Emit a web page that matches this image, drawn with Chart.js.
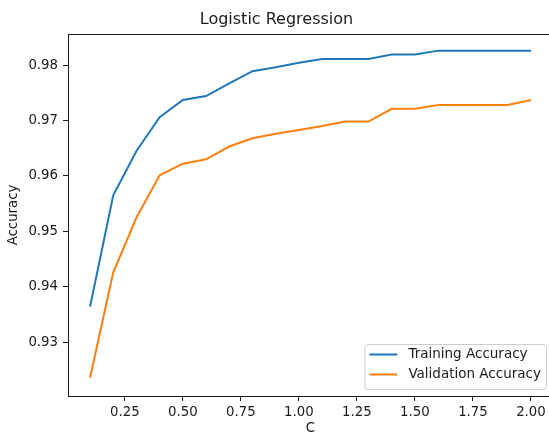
<!DOCTYPE html>
<html>
<head>
<meta charset="utf-8">
<title>Logistic Regression</title>
<script src="https://cdn.jsdelivr.net/npm/chart.js@4.4.1/dist/chart.umd.min.js"></script>
<style>
    html, body { margin: 0; padding: 0; background: white; overflow: hidden; }
    #wrap { position: absolute; left: 0; top: 0; width: 553px; height: 437px; }
</style>
</head>
<body>
<div id="wrap"><canvas id="chart"></canvas></div>
<script>
const cValues = [0.1, 0.2, 0.3, 0.4, 0.5, 0.6, 0.7, 0.8, 0.9, 1.0,
                 1.1, 1.2, 1.3, 1.4, 1.5, 1.6, 1.7, 1.8, 1.9, 2.0];
const trainAcc = [0.9364, 0.9565, 0.9645, 0.9706, 0.9737, 0.9744, 0.9767, 0.9789, 0.9796, 0.9804,
                  0.9811, 0.9811, 0.9811, 0.9819, 0.9819, 0.9826, 0.9826, 0.9826, 0.9826, 0.9826];
const valAcc = [0.9236, 0.9426, 0.9525, 0.9601, 0.9622, 0.9630, 0.9653, 0.9668, 0.9676, 0.9683,
                0.9690, 0.9698, 0.9698, 0.9721, 0.9721, 0.9728, 0.9728, 0.9728, 0.9728, 0.9737];
const xTicks = [0.25, 0.5, 0.75, 1.0, 1.25, 1.5, 1.75, 2.0];
const yTicks = [0.93, 0.94, 0.95, 0.96, 0.97, 0.98];

const ink = '#1a1a1a';
const font = 'DejaVu Sans';

Chart.defaults.font.family = font;
Chart.defaults.color = ink;

// full box round the plot, like matplotlib spines
const framePlugin = {
    id: 'frame',
    afterDraw(chart) {
        const { ctx, chartArea: a } = chart;
        ctx.save();
        ctx.strokeStyle = ink;
        ctx.lineWidth = 1;
        ctx.strokeRect(a.left + 0.5, a.top + 0.5, a.right - a.left, a.bottom - a.top);
        ctx.restore();
    }
};

// legend drawn inside the plot, lower right
const boxLegend = {
    id: 'boxLegend',
    afterDatasetsDraw(chart) {
        const { ctx, chartArea: a } = chart;
        const sets = chart.data.datasets;
        ctx.save();
        ctx.font = `13.5px ${font}`;
        const textW = Math.max(...sets.map(d => ctx.measureText(d.label).width));
        const pad = 5, handle = 28, gap = 11, row = 20;
        const w = pad + handle + gap + textW + pad;
        const h = 45;
        const x = a.right - 7 - w;
        const y = a.bottom - 7 - h;

        ctx.fillStyle = 'rgba(255,255,255,0.8)';
        ctx.strokeStyle = '#cccccc';
        ctx.lineWidth = 1;
        ctx.beginPath();
        ctx.roundRect(x + 0.5, y + 0.5, w, h, 3);
        ctx.fill();
        ctx.stroke();

        sets.forEach((d, i) => {
            const cy = y + 10.5 + i * row;
            ctx.strokeStyle = d.borderColor;
            ctx.lineWidth = 2;
            ctx.beginPath();
            ctx.moveTo(x + pad, cy);
            ctx.lineTo(x + pad + handle, cy);
            ctx.stroke();
            ctx.fillStyle = ink;
            ctx.textBaseline = 'middle';
            ctx.fillText(d.label, x + pad + handle + gap, cy);
        });
        ctx.restore();
    }
};

function axis(min, max, ticks, label, titlePad) {
    return {
        type: 'linear',
        min: min,
        max: max,
        afterBuildTicks: s => { s.ticks = ticks.map(v => ({ value: v })); },
        ticks: {
            autoSkip: false,
            maxRotation: 0,
            padding: 4,
            font: { size: 13.3 },
            color: ink,
            callback: v => v.toFixed(2)
        },
        grid: {
            drawOnChartArea: false,
            drawTicks: true,
            tickLength: 5,
            tickWidth: 1,
            color: ink
        },
        border: { display: true, color: ink, width: 1 },
        title: {
            display: true,
            text: label,
            font: { size: 13.3 },
            color: ink,
            padding: titlePad
        }
    };
}

const xAxis = axis(0.005, 2.095, xTicks, 'C', { top: 0, bottom: 0 });
xAxis.afterFit = s => { s.height = 41; };
const yAxis = axis(0.9203, 0.9856, yTicks, 'Accuracy', { top: 6, bottom: 0 });
yAxis.ticks.padding = 5;
yAxis.afterFit = s => { s.width = 68; };

new Chart(document.getElementById('chart'), {
    type: 'line',
    data: {
        datasets: [
            {
                label: 'Training Accuracy',
                data: cValues.map((c, i) => ({ x: c, y: trainAcc[i] })),
                borderColor: '#1f77b4',
                borderWidth: 2,
                pointRadius: 0,
                tension: 0,
                fill: false
            },
            {
                label: 'Validation Accuracy',
                data: cValues.map((c, i) => ({ x: c, y: valAcc[i] })),
                borderColor: '#ff7f0e',
                borderWidth: 2,
                pointRadius: 0,
                tension: 0,
                fill: false
            }
        ]
    },
    options: {
        responsive: true,
        maintainAspectRatio: false,
        animation: false,
        layout: { padding: 0 },
        scales: { x: xAxis, y: yAxis },
        plugins: {
            legend: { display: false },
            tooltip: { enabled: false },
            title: {
                display: true,
                text: 'Logistic Regression',
                color: ink,
                font: { size: 16, weight: 'normal' },
                padding: { top: 10.5, bottom: 4.3 }
            }
        }
    },
    plugins: [framePlugin, boxLegend]
});
</script>
</body>
</html>
